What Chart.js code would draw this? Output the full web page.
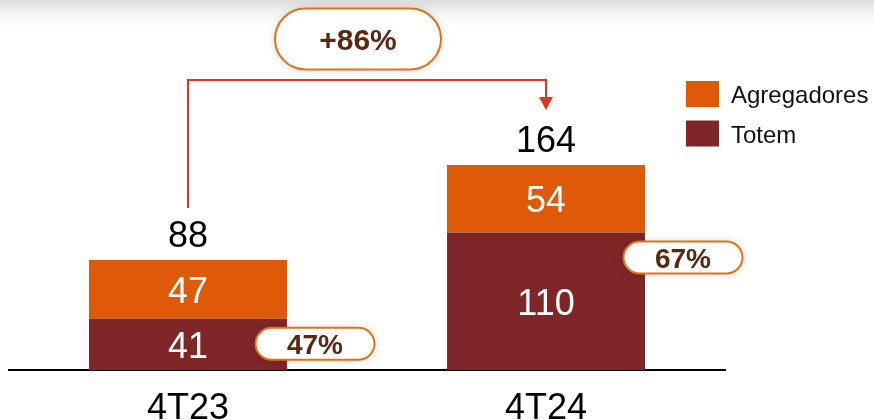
<!DOCTYPE html>
<html>
<head>
<meta charset="utf-8">
<script src="https://cdn.jsdelivr.net/npm/chart.js@4"></script>
<style>
  html, body { margin: 0; padding: 0; }
  body {
    width: 874px; height: 420px; overflow: hidden;
    background: linear-gradient(to bottom, #dcdcdc 0px, #f3f3f3 12px, #ffffff 26px);
  }
  #wrap { position: relative; width: 874px; height: 420px; }
</style>
</head>
<body>
<div id="wrap"><canvas id="chart" width="874" height="420"></canvas></div>
<script>
const periods = ['4T23', '4T24']
const totem = [41, 110]
const agregadores = [47, 54]
const seriesNames = ['Totem', 'Agregadores']

const ORANGE = '#DF5A08'
const MAROON = '#7E2628'
const PILL_BORDER = '#DE7418'
const PILL_TEXT = '#5A2811'
const ARROW = '#E0341C'
const FONT = '"Liberation Sans", Arial, sans-serif'

const totals = periods.map((p, i) => totem[i] + agregadores[i])

function pill(ctx, cx, cy, w, h, text, size) {
    const r = h / 2
    ctx.save()
    ctx.shadowColor = 'rgba(0,0,0,0.18)'
    ctx.shadowBlur = 10
    ctx.beginPath()
    ctx.roundRect(cx - w / 2, cy - h / 2, w, h, r)
    ctx.fillStyle = '#fff'
    ctx.fill()
    ctx.shadowColor = 'transparent'
    ctx.lineWidth = 2
    ctx.strokeStyle = PILL_BORDER
    ctx.stroke()
    ctx.fillStyle = PILL_TEXT
    ctx.font = `bold ${size}px ${FONT}`
    ctx.textAlign = 'center'
    ctx.textBaseline = 'alphabetic'
    ctx.fillText(text, cx, cy + size * 0.36)
    ctx.restore()
}

const overlay = {
    id: 'overlay',
    afterDatasetsDraw(chart) {
        const ctx = chart.ctx
        const low = chart.getDatasetMeta(0).data
        const high = chart.getDatasetMeta(1).data

        // values inside segments
        ctx.save()
        ctx.font = `36px ${FONT}`
        ctx.fillStyle = '#fff'
        ctx.textAlign = 'center'
        ctx.textBaseline = 'alphabetic'
        low.forEach((el, i) => ctx.fillText(totem[i], el.x, (el.y + el.base) / 2 + 13.5))
        high.forEach((el, i) => ctx.fillText(agregadores[i], el.x, (el.y + el.base) / 2 + 13.5))

        // totals above bars
        ctx.fillStyle = '#000'
        high.forEach((el, i) => ctx.fillText(totals[i], el.x, el.y - 13))
        ctx.restore()

        // growth arrow
        const a = high[0], b = high[1]
        const yTop = 80
        ctx.save()
        ctx.strokeStyle = ARROW
        ctx.fillStyle = ARROW
        ctx.lineWidth = 2
        ctx.beginPath()
        ctx.moveTo(a.x, a.y - 52)
        ctx.lineTo(a.x, yTop)
        ctx.lineTo(b.x, yTop)
        ctx.lineTo(b.x, b.y - 66)
        ctx.stroke()
        ctx.beginPath()
        ctx.moveTo(b.x - 7, b.y - 68)
        ctx.lineTo(b.x + 7, b.y - 68)
        ctx.lineTo(b.x, b.y - 55)
        ctx.closePath()
        ctx.fill()
        ctx.restore()

        const growth = Math.round((totals[1] / totals[0] - 1) * 100)
        pill(ctx, (a.x + b.x) / 2 - 9, 39, 166, 61, '+' + growth + '%', 30)

        // totem share pills
        const shift = [28, 38]
        low.forEach((el, i) => {
            const share = Math.round(totem[i] / totals[i] * 100)
            pill(ctx, el.x + el.width / 2 + shift[i], el.y + 25, 119, 32, share + '%', 28)
        })

        // legend
        ctx.save()
        ctx.font = `24px ${FONT}`
        ctx.textBaseline = 'alphabetic'
        ctx.textAlign = 'left'
        const items = [chart.data.datasets[1], chart.data.datasets[0]]
        items.forEach((ds, k) => {
            const y = 94 + k * 39.5
            ctx.fillStyle = ds.backgroundColor
            ctx.fillRect(686, y - 13, 33, 26)
            ctx.fillStyle = '#111'
            ctx.fillText(ds.label, 731, y + 9)
        })
        ctx.restore()
    }
}

new Chart(document.getElementById('chart'), {
    type: 'bar',
    data: {
        labels: periods,
        datasets: [
            { label: seriesNames[0], data: totem, backgroundColor: MAROON },
            { label: seriesNames[1], data: agregadores, backgroundColor: ORANGE }
        ]
    },
    options: {
        responsive: false,
        animation: false,
        events: [],
        layout: { padding: { top: 120, left: 9, right: 149, bottom: 0 } },
        datasets: { bar: { barPercentage: 1, categoryPercentage: 0.553 } },
        plugins: { legend: { display: false }, tooltip: { enabled: false } },
        scales: {
            x: {
                stacked: true,
                grid: { display: false, drawTicks: false },
                border: { display: true, color: '#000', width: 2 },
                ticks: { color: '#000', font: { family: FONT, size: 36 }, padding: 17 },
                afterFit: s => { s.height = 50 }
            },
            y: {
                stacked: true,
                display: false,
                min: 0,
                max: 200
            }
        }
    },
    plugins: [overlay]
});
</script>
</body>
</html>
